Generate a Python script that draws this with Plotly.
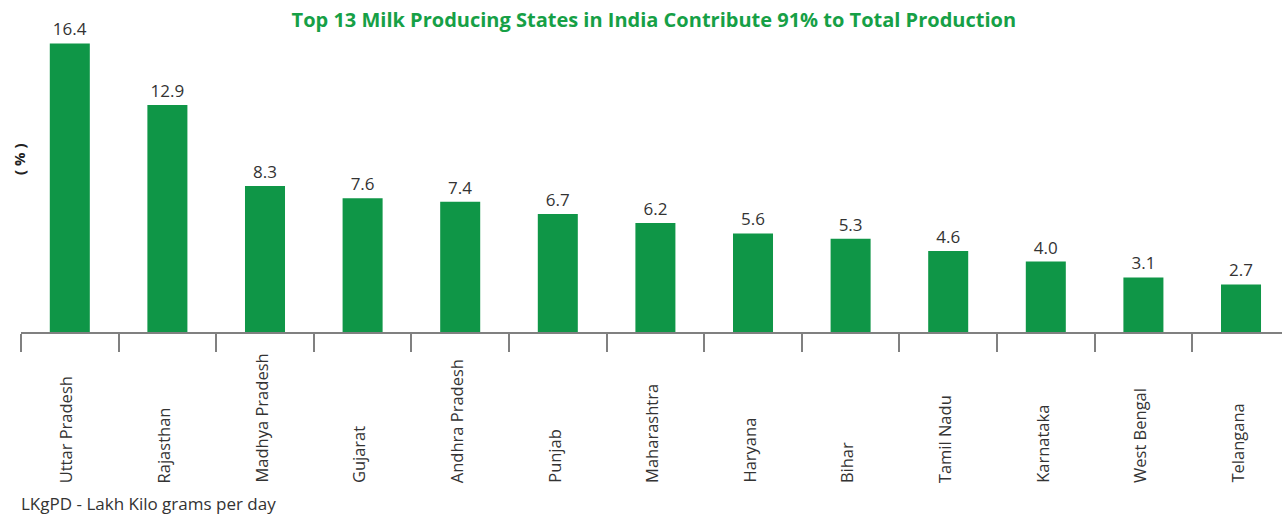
import plotly.graph_objects as go

states = ["Uttar Pradesh", "Rajasthan", "Madhya Pradesh", "Gujarat", "Andhra Pradesh",
          "Punjab", "Maharashtra", "Haryana", "Bihar", "Tamil Nadu", "Karnataka",
          "West Bengal", "Telangana"]
shares = [16.4, 12.9, 8.3, 7.6, 7.4, 6.7, 6.2, 5.6, 5.3, 4.6, 4.0, 3.1, 2.7]
value_labels = [f"{v:.1f}" for v in shares]

title_text = "Top 13 Milk Producing States in India Contribute 91% to Total Production"
y_title = "( % )"
footnote = "LKgPD - Lakh Kilo grams per day"

GREEN = "#0f9647"
TXT = "#333333"
FONT = "Open Sans"

fig = go.Figure(go.Bar(
    x=states, y=shares, text=value_labels, textposition="outside",
    textfont=dict(family=FONT, size=17, color=TXT),
    marker=dict(color=GREEN, line=dict(width=0)),
    cliponaxis=False,
))

W, H = 1282, 517
ml, mt, mb, mr = 21, 20, 185, 0
fig.update_layout(
    width=W, height=H,
    margin=dict(l=ml, r=mr, t=mt, b=mb),
    paper_bgcolor="white", plot_bgcolor="white",
    bargap=0.59, showlegend=False,
    font=dict(family=FONT, color=TXT),
    title=dict(text=f"<b>{title_text}</b>", x=0.51, xanchor="center", y=0.962, yanchor="middle",
               font=dict(family="Open Sans", size=20, color="#16a046")),
)
fig.update_xaxes(
    range=[-0.5, 12.42], showline=True, linecolor="#808080", linewidth=2,
    ticks="outside", tickson="boundaries", ticklen=18, tickwidth=2, tickcolor="#808080",
    showticklabels=False, showgrid=False, zeroline=False, fixedrange=True,
)
fig.update_yaxes(range=[0, 17.73], visible=False, showgrid=False, zeroline=False, fixedrange=True)

for s in states:
    fig.add_annotation(x=s, xref="x", y=-(485 - 332) / (332 - mt), yref="paper",
                       text=s, textangle=-90, showarrow=False, xanchor="center", yanchor="bottom",
                       font=dict(family=FONT, size=16.5, color=TXT), xshift=-4)

fig.add_annotation(x=0, xref="paper", xshift=-2, y=(332 - 160) / (332 - mt), yref="paper",
                   text=f"<b>{y_title}</b>", textangle=-90, showarrow=False,
                   xanchor="center", yanchor="middle", font=dict(family=FONT, size=15, color="#222222"))

fig.add_annotation(x=0, xref="paper", xanchor="left", xshift=-2,
                   y=-(503 - 332) / (332 - mt), yref="paper", yanchor="middle",
                   text=footnote, showarrow=False, font=dict(family=FONT, size=17, color=TXT))

fig.write_html("out.html", config={"displayModeBar": False},
               post_script="document.body.style.margin='0';")
